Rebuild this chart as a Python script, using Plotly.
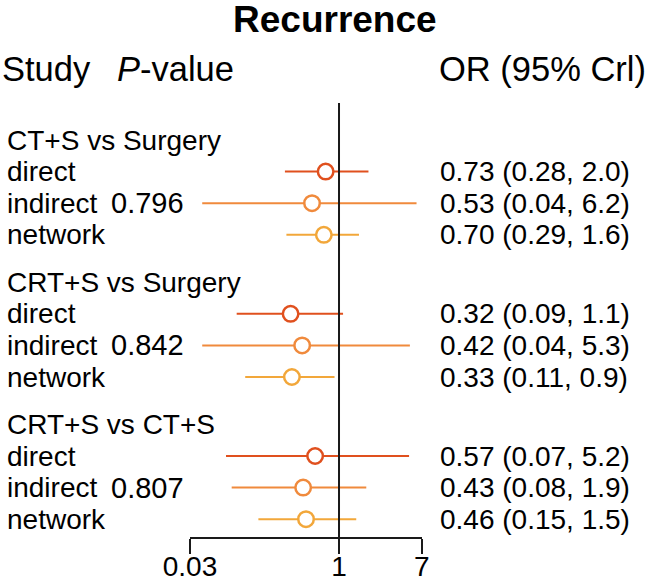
import math
import plotly.graph_objects as go

# ---- data ----
groups = ["CT+S vs Surgery", "CRT+S vs Surgery", "CRT+S vs CT+S"]
p_values = ["0.796", "0.842", "0.807"]
kinds = ["direct", "indirect", "network"]

direct_or = [0.73, 0.32, 0.57]
direct_lo = [0.28, 0.09, 0.07]
direct_hi = [2.0, 1.1, 5.2]

indirect_or = [0.53, 0.42, 0.43]
indirect_lo = [0.04, 0.04, 0.08]
indirect_hi = [6.2, 5.3, 1.9]

network_or = [0.70, 0.33, 0.46]
network_lo = [0.29, 0.11, 0.15]
network_hi = [1.6, 0.9, 1.5]

tick_vals = [0.03, 1, 7]
tick_text = ["0.03", "1", "7"]

# ---- styling / layout ----
W, H = 650, 583
FONT = "Liberation Sans, Arial, Helvetica, sans-serif"
colors = {"direct": "#E0501E", "indirect": "#F08A3C", "network": "#F2A73A"}
series = {
    "direct": (direct_or, direct_lo, direct_hi),
    "indirect": (indirect_or, indirect_lo, indirect_hi),
    "network": (network_or, network_lo, network_hi),
}

GROUP_STEP = 4.5
def header_pos(g):
    return g * GROUP_STEP
def row_pos(g, k):
    return g * GROUP_STEP + 1 + k

# pixel geometry
px_left, px_right = 190, 421.7      # x axis extent (0.03 .. 7)
px_top, px_bottom = 103, 537        # plot area vertical extent
row0_px, row_px = 140, 31.6         # pixel y of first header, pixels per row unit

y_top_u = (px_top - row0_px) / row_px
y_bot_u = (px_bottom - row0_px) / row_px

fig = go.Figure()
for k, kind in enumerate(kinds):
    vals, lo, hi = series[kind]
    fig.add_trace(go.Scatter(
        x=vals,
        y=[row_pos(g, k) for g in range(len(groups))],
        mode="markers",
        marker=dict(symbol="circle", size=15.5, color="white",
                    line=dict(color=colors[kind], width=2.5)),
        error_x=dict(type="data", symmetric=False,
                     array=[h - v for h, v in zip(hi, vals)],
                     arrayminus=[v - l for v, l in zip(vals, lo)],
                     color=colors[kind], thickness=2, width=0),
        cliponaxis=False,
        showlegend=False,
        hoverinfo="x",
    ))

def xp(px):
    return px / W

def yp(py):
    return (H - py) / H

ann = []
TXT = 28
# title
ann.append(dict(text="<b>Recurrence</b>", x=xp(335), y=yp(19), xref="paper", yref="paper",
                xanchor="center", yanchor="middle", showarrow=False,
                font=dict(size=37, color="black", family=FONT)))
# column headers
HDR = 34.5
for txt, px in [("Study", 0), ("<i>P</i>-value", 115), ("OR (95% Crl)", 437)]:
    ann.append(dict(text=txt, x=xp(px), y=yp(69), xref="paper", yref="paper",
                    xanchor="left", yanchor="middle", showarrow=False,
                    font=dict(size=HDR, color="black", family=FONT)))

for g, name in enumerate(groups):
    ann.append(dict(text=name, x=xp(5), y=header_pos(g), xref="paper", yref="y",
                    xanchor="left", yanchor="middle", showarrow=False,
                    font=dict(size=TXT, color="black", family=FONT)))
    for k, kind in enumerate(kinds):
        ann.append(dict(text=kind, x=xp(5), y=row_pos(g, k), xref="paper", yref="y",
                        xanchor="left", yanchor="middle", showarrow=False,
                        font=dict(size=TXT, color="black", family=FONT)))
        vals, lo, hi = series[kind]
        label = f"{vals[g]:.2f} ({lo[g]:.2f}, {hi[g]:.1f})"
        ann.append(dict(text=label, x=xp(438), y=row_pos(g, k), xref="paper", yref="y",
                        xanchor="left", yanchor="middle", showarrow=False,
                        font=dict(size=TXT, color="black", family=FONT)))
    ann.append(dict(text=p_values[g], x=xp(109), y=row_pos(g, 1), xref="paper", yref="y",
                    xanchor="left", yanchor="middle", showarrow=False,
                    font=dict(size=TXT + 1, color="black", family=FONT)))

fig.update_layout(
    width=W, height=H,
    margin=dict(l=0, r=0, t=0, b=0, pad=0, autoexpand=False),
    paper_bgcolor="white", plot_bgcolor="white",
    annotations=ann,
    shapes=[dict(type="line", xref="x", yref="y domain", x0=1, x1=1, y0=0, y1=1,
                 line=dict(color="#1a1a1a", width=2), layer="above")],
    xaxis=dict(type="log", domain=[xp(px_left), xp(px_right)],
               range=[math.log10(tick_vals[0]), math.log10(tick_vals[-1])],
               tickvals=tick_vals, ticktext=tick_text,
               ticks="outside", ticklen=15, tickwidth=2, tickcolor="#1a1a1a",
               ticklabelstandoff=-12,
               showline=True, linecolor="#1a1a1a", linewidth=2,
               showgrid=False, zeroline=False, automargin=False,
               tickfont=dict(size=28, color="black", family=FONT)),
    yaxis=dict(domain=[yp(px_bottom), yp(px_top)], range=[y_bot_u, y_top_u],
               showgrid=False, zeroline=False, showticklabels=False, showline=False,
               automargin=False),
)

fig.write_html(
    "out.html",
    config={"displayModeBar": False, "staticPlot": True},
    post_script="document.body.style.margin='0px';document.body.style.overflow='hidden';",
)
